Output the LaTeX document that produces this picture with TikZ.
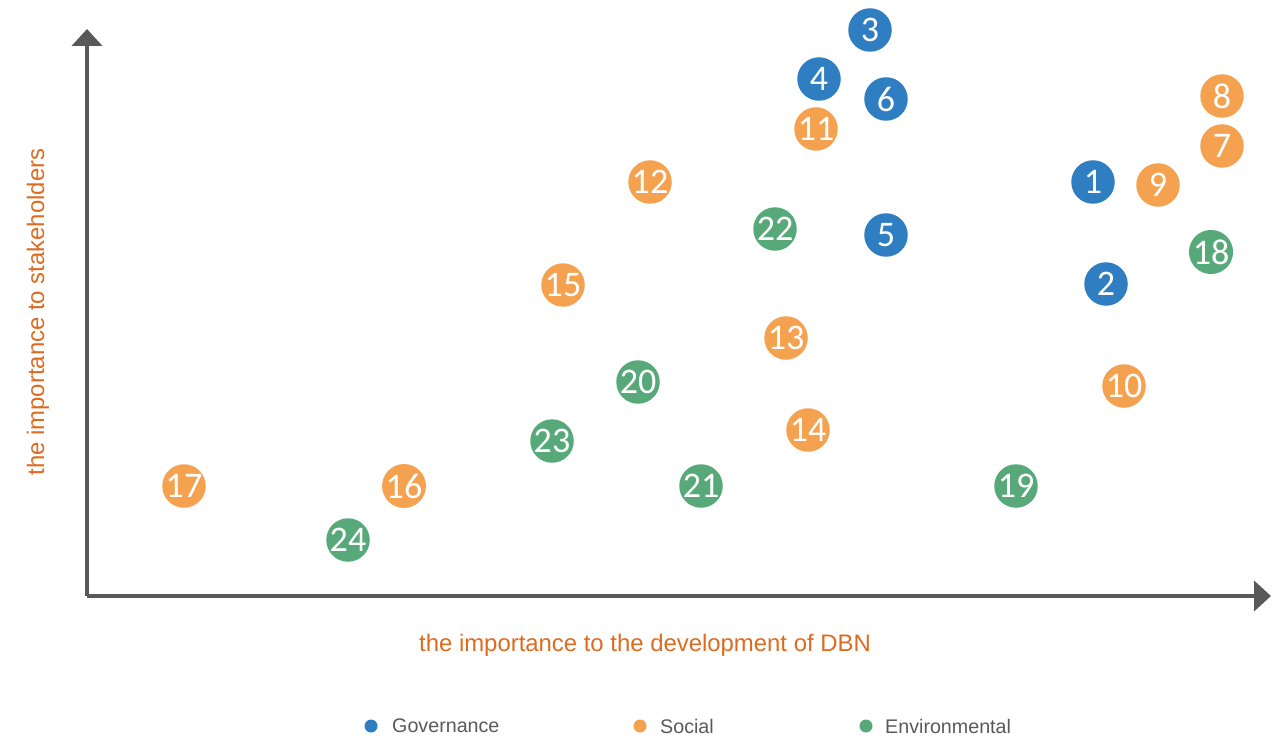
\documentclass[tikz,border=0pt]{standalone}
\usepackage{fontspec}
\setmainfont{Liberation Sans}
\newfontfamily\numfont{Carlito}
\usepackage{tikz}
\usetikzlibrary{arrows.meta}
\usepackage{xcolor}
\definecolor{govblue}{HTML}{2E7EC1}
\definecolor{socorange}{HTML}{F4A250}
\definecolor{envgreen}{HTML}{57A97A}
\definecolor{labelorange}{HTML}{DD6B20}
\definecolor{axisgray}{HTML}{595959}
\tikzset{
  every node/.style={font=\rmfamily}
}

\begin{document}
\begin{tikzpicture}
  \tikzset{
    issue/.style={
      circle,
      minimum size=0.87cm,
      inner sep=0pt,
      text=white,
      font=\numfont\fontsize{20.5}{20.5}\selectfont
    },
    gov/.style={issue, fill=govblue},
    soc/.style={issue, fill=socorange},
    env/.style={issue, fill=envgreen},
    axis/.style={
      draw=axisgray,
      line width=2.8pt,
      -{Triangle[length=3.4mm, width=6mm]}
    },
    axislabel/.style={
      text=labelorange,
      font=\fontsize{13.6}{14}\selectfont
    },
    legenddot/.style={
      circle,
      minimum size=0.26cm,
      inner sep=0pt
    },
    legendtext/.style={
      anchor=west,
      text=axisgray,
      font=\fontsize{11.2}{12}\selectfont
    }
  }
  \useasboundingbox (0,0) rectangle (25.72,14.74);

  % Axes
  \coordinate (o) at (1.74,2.82);
  \coordinate (ytip) at (1.74,14.16);
  \coordinate (xtip) at (25.42,2.82);
  \draw[axis] (o) -- (ytip);
  \draw[axis] (o) -- (xtip);

  % Axis labels
  \node[axislabel] (xlab) at (12.90,1.84) {the importance to the development of DBN};
  \node[axislabel, rotate=90] (ylab) at (0.76,8.50) {the importance to stakeholders};

  % Governance
  \node[gov] (i1) at (21.86,11.10) {1};
  \node[gov] (i2) at (22.12,9.06) {2};
  \node[gov] (i3) at (17.40,14.14) {3};
  \node[gov] (i4) at (16.38,13.16) {4};
  \node[gov] (i5) at (17.72,10.04) {5};
  \node[gov] (i6) at (17.72,12.76) {6};

  % Social
  \node[soc] (i7) at (24.44,11.82) {7};
  \node[soc] (i8) at (24.44,12.82) {8};
  \node[soc] (i9) at (23.16,11.04) {9};
  \node[soc] (i10) at (22.48,7.02) {10};
  \node[soc] (i11) at (16.32,12.16) {11};
  \node[soc] (i12) at (13.00,11.10) {12};
  \node[soc] (i13) at (15.72,7.98) {13};
  \node[soc] (i14) at (16.16,6.14) {14};
  \node[soc] (i15) at (11.26,9.04) {15};
  \node[soc] (i16) at (8.08,5.02) {16};
  \node[soc] (i17) at (3.68,5.02) {17};

  % Environmental
  \node[env] (i18) at (24.22,9.70) {18};
  \node[env] (i19) at (20.32,5.02) {19};
  \node[env] (i20) at (12.76,7.10) {20};
  \node[env] (i21) at (14.02,5.02) {21};
  \node[env] (i22) at (15.50,10.16) {22};
  \node[env] (i23) at (11.04,5.92) {23};
  \node[env] (i24) at (6.96,3.94) {24};

  % Legend
  \node[legenddot, fill=govblue] (lg) at (7.42,0.22) {};
  \node[legendtext] at (7.72,0.22) {Governance};
  \node[legenddot, fill=socorange] (ls) at (12.80,0.22) {};
  \node[legendtext] at (13.08,0.22) {Social};
  \node[legenddot, fill=envgreen] (le) at (17.32,0.22) {};
  \node[legendtext] at (17.58,0.22) {Environmental};
\end{tikzpicture}
\end{document}
